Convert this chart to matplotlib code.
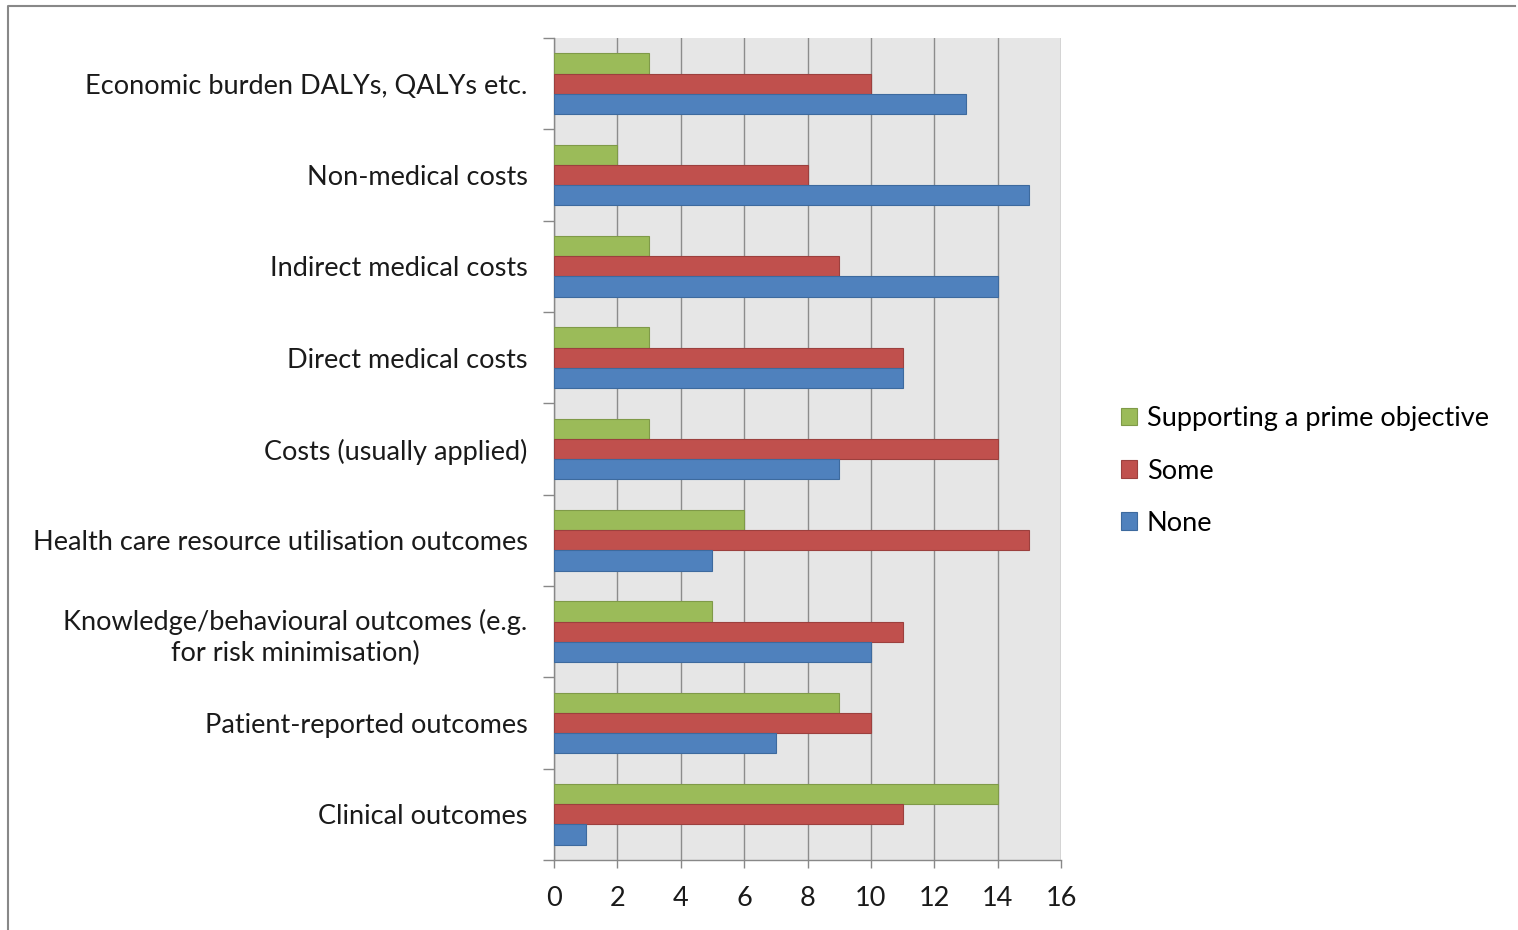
import matplotlib
matplotlib.use('Agg')
import matplotlib.pyplot as plt
from matplotlib.lines import Line2D
import numpy as np

# categories listed bottom to top
categories = ['Clinical outcomes',
              'Patient-reported outcomes',
              'Knowledge/behavioural outcomes (e.g.\nfor risk minimisation)',
              'Health care resource utilisation outcomes',
              'Costs (usually applied)',
              'Direct medical costs',
              'Indirect medical costs',
              'Non-medical costs',
              'Economic burden DALYs, QALYs etc.']
supporting = [14, 9, 5, 6, 3, 3, 3, 2, 3]
some = [11, 10, 11, 15, 14, 11, 9, 8, 10]
none = [1, 7, 10, 5, 9, 11, 14, 15, 13]
x_ticks = [0, 2, 4, 6, 8, 10, 12, 14, 16]

plt.rcParams['font.family'] = ['Lato', 'DejaVu Sans']
fs = 19.5

fig = plt.figure(figsize=(15.18, 9.3), dpi=100)
ax = fig.add_axes([554 / 1518, 70 / 930, 507 / 1518, 822 / 930])
ax.set_facecolor('#e6e6e6')

y = np.arange(len(categories))
h = 0.222
ax.barh(y + h, supporting, height=h, color='#9bbb59', edgecolor='#7f9a48', linewidth=0.8,
        label='Supporting a prime objective', zorder=3)
ax.barh(y, some, height=h, color='#c0504d', edgecolor='#9c403e', linewidth=0.8,
        label='Some', zorder=3)
ax.barh(y - h, none, height=h, color='#4f81bd', edgecolor='#3d6a9e', linewidth=0.8,
        label='None', zorder=3)

ax.set_xlim(0, 16)
ax.set_ylim(-0.5, len(categories) - 0.5)
ax.set_xticks(x_ticks)
ax.set_xticklabels([str(t) for t in x_ticks], fontsize=fs, color='#1a1a1a')
ax.set_yticks(y)
ax.set_yticklabels(categories, fontsize=fs, color='#1a1a1a', multialignment='center',
                   linespacing=1.3)
ax.set_yticks(np.arange(-0.5, len(categories)), minor=True)
ax.tick_params(axis='y', which='major', length=0, pad=19)
ax.tick_params(axis='y', which='minor', length=8, color='#888888', width=1)
ax.tick_params(axis='x', length=6, color='#888888', width=1, pad=13)

ax.grid(axis='x', color='#8c8c8c', linewidth=1, zorder=0)
ax.set_axisbelow(True)
for s in ['top', 'right']:
    ax.spines[s].set_visible(False)
for s in ['left', 'bottom']:
    ax.spines[s].set_color('#888888')
    ax.spines[s].set_linewidth(1)

ax.legend(loc='center left', bbox_to_anchor=(1121 / 1518, 459 / 930), bbox_transform=fig.transFigure,
          frameon=False, fontsize=fs, handlelength=0.6, handleheight=0.6, handletextpad=0.35,
          labelspacing=1.0, borderaxespad=0, borderpad=0)

# outer chart frame
fig.add_artist(Line2D([8 / 1518, 8 / 1518, 1515 / 1518], [0, 1 - 6 / 930, 1 - 6 / 930],
                      transform=fig.transFigure, color='#888888', linewidth=1.5))

plt.savefig('out.png', dpi=100)
plt.close()
